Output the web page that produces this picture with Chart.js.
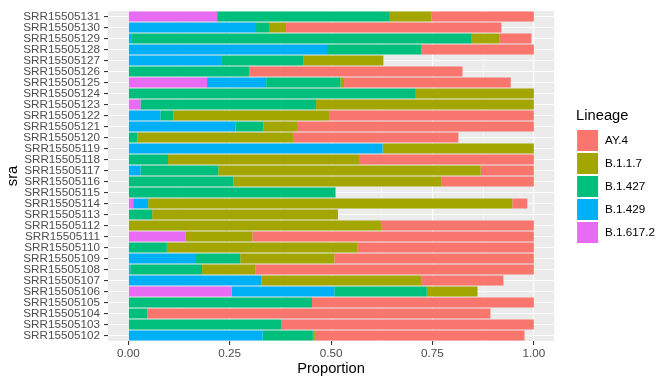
<!DOCTYPE html>
<html>
<head>
<meta charset="utf-8">
<script src="https://cdn.jsdelivr.net/npm/chart.js@4.4.1/dist/chart.umd.min.js"></script>
<style>
  html, body { margin: 0; padding: 0; background: #ffffff; }
  #wrap { width: 672px; height: 384px; }
</style>
</head>
<body>
<div id="wrap"><canvas id="c" width="672" height="384"></canvas></div>
<script>
// Categories (bottom to top)
const categories = [
  'SRR15505102','SRR15505103','SRR15505104','SRR15505105','SRR15505106',
  'SRR15505107','SRR15505108','SRR15505109','SRR15505110','SRR15505111',
  'SRR15505112','SRR15505113','SRR15505114','SRR15505115','SRR15505116',
  'SRR15505117','SRR15505118','SRR15505119','SRR15505120','SRR15505121',
  'SRR15505122','SRR15505123','SRR15505124','SRR15505125','SRR15505126',
  'SRR15505127','SRR15505128','SRR15505129','SRR15505130','SRR15505131'
];
// Series values (proportions), same order as categories
const B16172 = [0,0,0,0,.255,0,0,0,0,.142,0,0,.012,0,0,0,0,0,0,0,0,.03,0,.194,0,0,0,0,0,.219];
const B1429  = [.331,0,0,0,.253,.328,.005,.167,0,0,0,0,.037,0,0,.03,0,.627,0,.264,.079,0,0,.146,0,.231,.49,.009,.315,0];
const B1427  = [.124,.377,.047,.453,.228,0,.177,.109,.095,0,0,.059,0,.511,.259,.192,.098,0,.023,.069,.032,.433,.709,.183,.298,.200,.232,.838,.032,.426];
const B117   = [.005,0,0,0,.125,.394,.131,.232,.471,.164,.623,.458,.898,0,.514,.647,.471,.373,.383,.083,.384,.537,.291,.009,0,.198,0,.069,.042,.102];
const AY4    = [.517,.623,.846,.547,0,.203,.687,.492,.434,.694,.377,0,.037,0,.227,.131,.431,0,.408,.584,.505,0,0,.411,.526,0,.278,.078,.531,.253];
// Tick labels
const xTickValues = [0, 0.125, 0.25, 0.375, 0.5, 0.625, 0.75, 0.875, 1];
const xMajorLabels = {0: '0.00', 0.25: '0.25', 0.5: '0.50', 0.75: '0.75', 1: '1.00'};
const legendOrder = ['AY.4', 'B.1.1.7', 'B.1.427', 'B.1.429', 'B.1.617.2'];

const colors = {
  'AY.4': '#F8766D', 'B.1.1.7': '#A3A500', 'B.1.427': '#00BF7D',
  'B.1.429': '#00B0F6', 'B.1.617.2': '#E76BF3'
};
const seriesList = [
  ['B.1.617.2', B16172], ['B.1.429', B1429], ['B.1.427', B1427],
  ['B.1.1.7', B117], ['AY.4', AY4]
];
const FONT = '"Liberation Sans", Arial, Helvetica, sans-serif';

const panelBg = {
  id: 'panelBg',
  beforeDraw(chart) {
    const a = chart.chartArea, ctx = chart.ctx;
    ctx.save();
    ctx.fillStyle = '#EBEBEB';
    ctx.fillRect(a.left, a.top, a.right - a.left, a.bottom - a.top);
    ctx.restore();
  }
};
const legendShift = {
  id: 'legendShift',
  afterLayout(chart) {
    const lg = chart.legend;
    if (lg) { lg.left += 22; lg.right += 22; }
  }
};

const isMajor = v => Object.prototype.hasOwnProperty.call(xMajorLabels, v);

new Chart(document.getElementById('c'), {
  type: 'bar',
  data: {
    labels: categories,
    datasets: seriesList.map(([name, vals]) => ({
      label: name,
      data: vals,
      backgroundColor: colors[name],
      borderWidth: 0,
      barPercentage: 0.9,
      categoryPercentage: 1.0,
      stack: 's'
    }))
  },
  options: {
    indexAxis: 'y',
    responsive: false,
    animation: false,
    layout: { padding: { top: 7, right: 29, bottom: 0, left: 0 } },
    scales: {
      x: {
        type: 'linear',
        stacked: true,
        min: -0.05,
        max: 1.05,
        afterBuildTicks(scale) { scale.ticks = xTickValues.map(v => ({ value: v })); },
        afterFit(scale) { scale.height = 43; },
        border: { display: false },
        grid: {
          color: '#FFFFFF',
          lineWidth: ctx => (ctx.tick && isMajor(ctx.tick.value)) ? 1.1 : 0.55,
          drawTicks: true,
          tickLength: 4,
          tickWidth: 1.1,
          tickColor: ctx => (ctx.tick && isMajor(ctx.tick.value)) ? '#333333' : 'rgba(0,0,0,0)'
        },
        ticks: {
          autoSkip: false,
          maxRotation: 0,
          padding: 2,
          color: '#4D4D4D',
          font: { family: FONT, size: 11.7 },
          callback: v => isMajor(v) ? xMajorLabels[v] : ''
        },
        title: {
          display: true,
          text: 'Proportion',
          color: '#000000',
          font: { family: FONT, size: 14.7 },
          padding: { top: 0, bottom: 6 }
        }
      },
      y: {
        type: 'category',
        stacked: true,
        reverse: true,
        offset: true,
        afterFit(scale) { scale.width = 108; },
        border: { display: false },
        grid: {
          offset: false,
          color: '#FFFFFF',
          lineWidth: 1.1,
          drawTicks: true,
          tickLength: 4,
          tickWidth: 1.1,
          tickColor: '#333333'
        },
        ticks: {
          autoSkip: false,
          padding: 4,
          color: '#4D4D4D',
          font: { family: FONT, size: 11.7 }
        },
        title: {
          display: true,
          text: 'sra',
          color: '#000000',
          font: { family: FONT, size: 14.7 },
          padding: { top: 4, bottom: 0 }
        }
      }
    },
    plugins: {
      tooltip: { enabled: false },
      legend: {
        display: true,
        position: 'right',
        fullSize: false,
        align: 'center',
        title: {
          display: true,
          text: 'Lineage',
          position: 'start',
          color: '#000000',
          font: { family: FONT, size: 14.7 },
          padding: { top: 1, bottom: 2.4 }
        },
        labels: {
          boxWidth: 23,
          boxHeight: 23,
          padding: 0,
          color: '#000000',
          font: { family: FONT, size: 11.7 },
          generateLabels(chart) {
            return legendOrder.map(name => {
              const i = chart.data.datasets.findIndex(d => d.label === name);
              return {
                text: name,
                fillStyle: colors[name],
                strokeStyle: '#FFFFFF',
                lineWidth: 2,
                datasetIndex: i,
                hidden: false
              };
            });
          }
        }
      }
    }
  },
  plugins: [panelBg, legendShift]
});
</script>
</body>
</html>
